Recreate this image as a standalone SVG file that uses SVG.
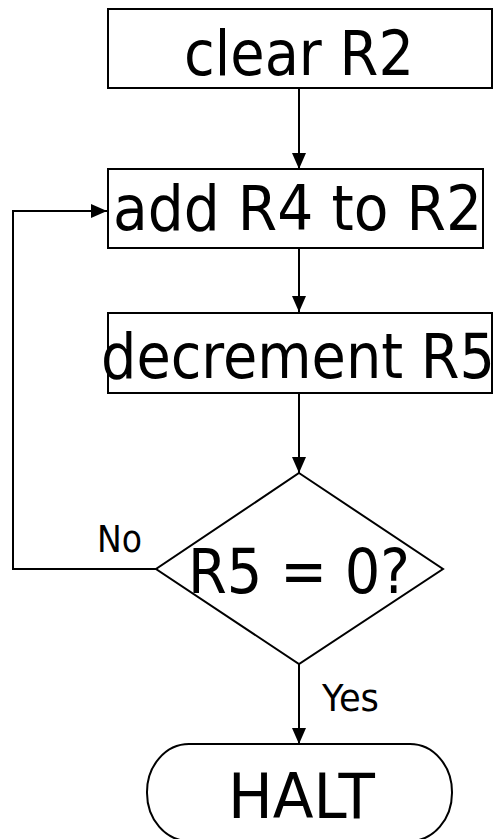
<svg xmlns="http://www.w3.org/2000/svg" width="494" height="839" viewBox="0 0 494 839">
  <style>
    .shape { fill: #ffffff; stroke: #000000; stroke-width: 2; }
    .wire { fill: none; stroke: #000000; stroke-width: 2; }
    .big { font-family: "DejaVu Sans", "Liberation Sans", sans-serif; font-size: 62px; fill: #000000; text-anchor: middle; }
    .small { font-family: "DejaVu Sans", "Liberation Sans", sans-serif; font-size: 37px; fill: #000000; }
  </style>
  <defs>
    <marker id="arrow" markerWidth="16" markerHeight="16" refX="16" refY="8" orient="auto" markerUnits="userSpaceOnUse">
      <path d="M0,1 L16,8 L0,15 Z" fill="#000000"/>
    </marker>
  </defs>
  <rect width="494" height="839" fill="#ffffff"/>

  <g id="connectors">
    <line class="wire" x1="299" y1="88" x2="299" y2="169" marker-end="url(#arrow)"/>
    <line class="wire" x1="299" y1="248" x2="299" y2="312" marker-end="url(#arrow)"/>
    <line class="wire" x1="299" y1="393" x2="299" y2="473" marker-end="url(#arrow)"/>
    <line class="wire" x1="299" y1="664" x2="299" y2="744" marker-end="url(#arrow)"/>
    <polyline class="wire" points="156,569 13,569 13,211 107,211" marker-end="url(#arrow)"/>
    <text class="small" x="97" y="552" textLength="45" lengthAdjust="spacingAndGlyphs">No</text>
    <text class="small" x="322" y="711" textLength="57" lengthAdjust="spacingAndGlyphs">Yes</text>
  </g>

  <g id="clear">
    <rect class="shape" x="108" y="9" width="384" height="79"/>
    <text class="big" x="299" y="75" textLength="230" lengthAdjust="spacingAndGlyphs">clear R2</text>
  </g>

  <g id="add">
    <rect class="shape" x="108" y="169" width="375" height="79"/>
    <text class="big" x="297.5" y="230" textLength="369" lengthAdjust="spacingAndGlyphs">add R4 to R2</text>
  </g>

  <g id="decrement">
    <rect class="shape" x="108" y="313" width="384" height="80"/>
    <text class="big" x="298" y="378" textLength="394" lengthAdjust="spacingAndGlyphs">decrement R5</text>
  </g>

  <g id="test">
    <polygon class="shape" points="299,473 443,569 299,664 156,569"/>
    <text class="big" x="299" y="593" textLength="222" lengthAdjust="spacingAndGlyphs">R5 = 0?</text>
  </g>

  <g id="halt">
    <rect class="shape" x="147" y="744" width="305" height="97" rx="42" ry="48"/>
    <text class="big" x="301.5" y="818" textLength="147" lengthAdjust="spacingAndGlyphs">HALT</text>
  </g>
</svg>
